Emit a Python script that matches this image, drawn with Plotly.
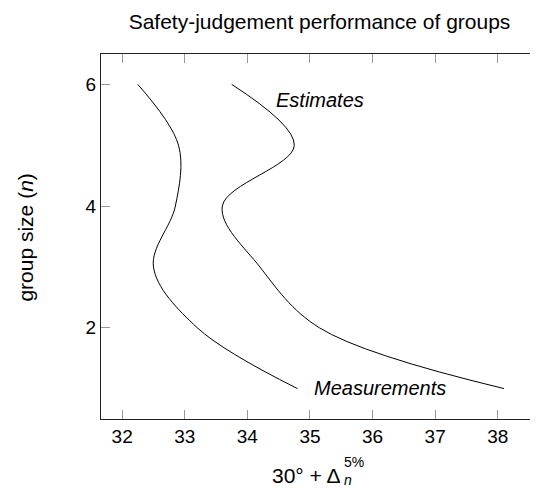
import plotly.graph_objects as go

group_size = [6, 5, 4, 3, 2, 1]
measurements = [32.25, 32.90, 32.85, 32.50, 33.20, 34.80]
estimates = [33.75, 34.75, 33.60, 34.20, 35.15, 38.10]

x_ticks = [32, 33, 34, 35, 36, 37, 38]
y_ticks = [2, 4, 6]

FONT = "Liberation Sans, Arial, Helvetica, sans-serif"

# page has an 8px body margin; plot area in page pixels: x 100.5..538, y 54..419
L, T, PW, PH = 100.5, 54.0, 437.5, 365.0


def px(xp):
    return (xp - L) / PW


def py(yp):
    return (T + PH - yp) / PH


fig = go.Figure()
for xs in (measurements, estimates):
    fig.add_trace(go.Scatter(
        x=xs, y=group_size, mode="lines",
        line=dict(color="black", width=1, shape="spline", smoothing=1.0),
        showlegend=False, hoverinfo="skip"))
# invisible trace to anchor the right-hand tick axis
fig.add_trace(go.Scatter(x=[measurements[0]], y=[group_size[0]], yaxis="y2", mode="markers",
                         marker=dict(opacity=0), showlegend=False, hoverinfo="skip"))

fig.add_annotation(x=34.43, y=5.74, xref="x", yref="y", text="<i>Estimates</i>",
                   showarrow=False, xanchor="left", yanchor="middle",
                   font=dict(family=FONT, size=20, color="black"))
fig.add_annotation(x=35.03, y=1.01, xref="x", yref="y", text="<i>Measurements</i>",
                   showarrow=False, xanchor="left", yanchor="middle",
                   font=dict(family=FONT, size=20, color="black"))

# x-axis label: 30° + Δ with stacked super/subscripts
fig.add_annotation(x=px(342.5), y=py(475), xref="paper", yref="paper",
                   text="30° + Δ", showarrow=False, xanchor="right", yanchor="middle",
                   font=dict(family=FONT, size=21, color="black"))
fig.add_annotation(x=px(342.0), y=py(471.5), xref="paper", yref="paper",
                   text="5%<br><i>n</i>", showarrow=False, xanchor="left", yanchor="middle",
                   align="left", font=dict(family=FONT, size=14, color="black"))

# y-axis label
fig.add_annotation(x=px(25), y=py(238), xref="paper", yref="paper",
                   text="group size (<i>n</i>)", showarrow=False, textangle=-90,
                   xanchor="center", yanchor="middle",
                   font=dict(family=FONT, size=21, color="black"))

fig.update_layout(
    width=530, height=480,
    margin=dict(l=92.5, r=0, t=46, b=69, pad=0),
    paper_bgcolor="white", plot_bgcolor="white",
    title=dict(text="Safety-judgement performance of groups",
               xref="paper", x=0.5, xanchor="center",
               yref="container", y=1 - (22 - 8) / 480, yanchor="middle",
               font=dict(family=FONT, size=21, color="black")),
    font=dict(family=FONT, size=19, color="black"),
    yaxis2=dict(overlaying="y", side="right", range=[0.5, 6.5], tickvals=y_ticks,
                showticklabels=False, showgrid=False, zeroline=False, showline=False,
                ticks="inside", ticklen=8, tickcolor="#999", tickwidth=1),
)
fig.update_xaxes(range=[31.662, 38.643], tickvals=x_ticks, ticktext=[str(v) for v in x_ticks],
                 showgrid=False, zeroline=False, showline=True, linecolor="#222", linewidth=1,
                 mirror="ticks", ticks="inside", ticklen=9, tickcolor="#999", tickwidth=1,
                 tickfont=dict(family=FONT, size=19, color="black"))
fig.update_layout(yaxis=dict(range=[0.5, 6.5], tickvals=y_ticks, ticktext=[str(v) for v in y_ticks],
                             showgrid=False, zeroline=False, showline=True, linecolor="#222",
                             linewidth=1, mirror=False, ticks="inside", ticklen=9,
                             tickcolor="#999", tickwidth=1,
                             tickfont=dict(family=FONT, size=19, color="black")))

fig.write_html("out.html")
